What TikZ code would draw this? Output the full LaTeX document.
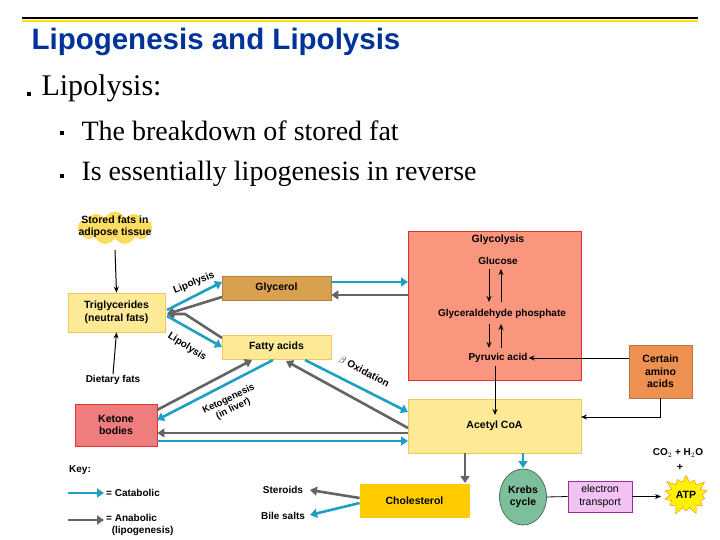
\documentclass[tikz,border=0pt]{standalone}
\usepackage{fontspec}
\setmainfont{Liberation Serif}
\newfontfamily\hsans{Liberation Sans}
\usetikzlibrary{shapes.geometric,shapes.symbols,arrows.meta}
\definecolor{ttl}{RGB}{0,51,153}
\definecolor{lyel}{RGB}{253,233,150}
\definecolor{lyeld}{RGB}{240,200,90}
\definecolor{glyc}{RGB}{217,160,80}
\definecolor{salm}{RGB}{250,150,125}
\definecolor{redb}{RGB}{225,50,50}
\definecolor{oran}{RGB}{238,145,80}
\definecolor{keto}{RGB}{240,125,125}
\definecolor{gold}{RGB}{255,204,0}
\definecolor{krebs}{RGB}{125,190,155}
\definecolor{pink}{RGB}{242,195,242}
\definecolor{purp}{RGB}{150,50,150}
\definecolor{cat}{RGB}{30,160,195}
\definecolor{ana}{RGB}{100,100,100}
\tikzset{
 x=1pt,y=-1pt,
 box/.style={draw=#1,line width=0.8pt,inner sep=0pt,font=\hsans\bfseries\fontsize{10.5}{12.5}\selectfont,align=center},
 lbl/.style={font=\hsans\bfseries\fontsize{10.5}{12.5}\selectfont,align=center,inner sep=1pt},
 sm/.style={font=\hsans\bfseries\fontsize{10}{12}\selectfont},
 catA/.style={draw=cat,line width=2.6pt,-{Triangle[length=7pt,width=9pt]}},
 anaA/.style={draw=ana,line width=2.6pt,-{Triangle[length=7pt,width=9pt]}},
 thin/.style={draw=black,line width=1pt,-{Stealth[length=6pt,width=5pt]}},
 bul/.style={fill=black,minimum size=4pt,inner sep=0pt},
}
\begin{document}
\begin{tikzpicture}
\useasboundingbox (0,0) rectangle (720,540);
\fill[white] (0,0) rectangle (720,540);
% header
\draw[line width=2pt,black] (22,18)--(698,18);
\draw[line width=1.5pt,yellow!80!orange] (22,21)--(698,21);
\node[anchor=west,text=ttl,font=\hsans\bfseries\fontsize{29.5}{32}\selectfont] (title) at (28,42) {Lipogenesis and Lipolysis};
\node[bul] (b1) at (29,94) {};
\node[anchor=west,font=\fontsize{30}{34}\selectfont] (t1) at (38,88) {Lipolysis:};
\node[bul] (b2) at (62,133) {};
\node[anchor=west,font=\fontsize{28}{32}\selectfont] (t2) at (78,131) {The breakdown of stored fat};
\node[bul] (b3) at (62,176) {};
\node[anchor=west,font=\fontsize{28}{32}\selectfont] (t3) at (78,174) {Is essentially lipogenesis in reverse};
% cloud
\node[cloud,cloud puffs=11,aspect=2.4,fill=yellow!60!orange!60,draw=yellow!70!orange,minimum width=74pt,minimum height=32pt] (cl) at (115,228) {};
\node[lbl] (stored) at (115,227) {Stored fats in\\adipose tissue};
% boxes
\node[box=lyeld,fill=lyel,minimum width=97pt,minimum height=39pt] (tri) at (116.5,312.5) {Triglycerides\\(neutral fats)};
\node[box=glyc!80!black,fill=glyc,minimum width=109pt,minimum height=24pt] (gly) at (276.5,288) {Glycerol};
\node[box=lyeld,fill=lyel,minimum width=109pt,minimum height=24pt] (fa) at (276.5,347) {Fatty acids};
\node[box=redb,fill=salm,minimum width=173pt,minimum height=149pt] (glb) at (494.5,305.5) {};
\node[box=oran!80!black,fill=oran,minimum width=63pt,minimum height=53pt] (ami) at (660.5,371.5) {Certain\\amino\\acids};
\node[box=lyeld,fill=lyel,minimum width=173pt,minimum height=54pt] (acc) at (494.5,426) {Acetyl CoA};
\node[box=redb,fill=keto,minimum width=82pt,minimum height=42pt] (ket) at (116,425) {Ketone\\bodies};
\node[box=gold,fill=gold,minimum width=109pt,minimum height=33pt] (cho) at (414.5,500.5) {Cholesterol};
\node[ellipse,box=krebs!60!black,fill=krebs,minimum width=47pt,minimum height=56pt] (kr) at (523,497) {Krebs\\cycle};
\node[box=purp,fill=pink,minimum width=64pt,minimum height=31pt,font=\hsans\fontsize{10.5}{13}\selectfont] (et) at (600,496.5) {electron\\transport};
\node[starburst,starburst points=14,starburst point height=9pt,fill=yellow,draw=orange,minimum width=50pt,minimum height=44pt,inner sep=0pt] (atp) at (686,495) {};
\node[lbl] (atpt) at (686,495) {ATP};
\node[lbl,sm] (co) at (678,453) {CO$_2$ + H$_2$O};
\node[lbl] (plus) at (680,467) {+};
% glycolysis internal
\node[lbl] (glt) at (498,240) {Glycolysis};
\node[lbl,sm] (glu) at (498,261) {Glucose};
\node[lbl,sm] (gap) at (502,314) {Glyceraldehyde phosphate};
\node[lbl,sm] (pyr) at (498,358) {Pyruvic acid};
\draw[thin] (489,269)--(489,302);
\draw[thin] (501,302)--(501,269);
\draw[thin] (489,324)--(489,348);
\draw[thin] (501,348)--(501,324);
\draw[thin] (495,366)--(495,415);
\draw[thin] (ami.west |- pyr) -- (pyr.east);
\draw[thin] (660,398)--(660,417)--(581,417);
% small labels
\node[lbl,sm] (diet) at (113,380) {Dietary fats};
\node[lbl,sm] (ste) at (283,490) {Steroids};
\node[lbl,sm] (bile) at (283,516) {Bile salts};
\draw[thin] (115,250)--(tri.north);
\draw[thin] (diet.north)--(tri.south);
% lipolysis arrows
\draw[anaA] (222,297)--(167,314);
\draw[anaA] (222,338)--(185,314)--(167,314);
\draw[catA] (167,310)--(222,282);
\draw[catA] (167,316)--(222,347);
\node[lbl,sm,rotate=22] (l1) at (194,283) {Lipolysis};
\node[lbl,sm,rotate=-32] (l2) at (187,347) {Lipolysis};
% glycerol glycolysis
\draw[catA] (gly.east |- 0,282)--(408,282);
\draw[anaA] (408,295)--(gly.east |- 0,295);
% fatty acids / acetyl
\draw[catA] (305,360)--(408,412);
\draw[anaA] (408,428)--(286,361);
\node[lbl,sm,rotate=-28] (box) at (364,372) {$\beta$ Oxidation};
% fatty / ketone
\draw[catA] (273,360)--(157,420);
\draw[anaA] (157,410)--(252,360);
\node[lbl,sm,rotate=26,font=\hsans\bfseries\fontsize{9.5}{10.5}\selectfont] (kg) at (231,404) {Ketogenesis\\(in liver)};
% acetyl ketone
\draw[anaA] (408,433)--(ket.east |- 0,433);
\draw[catA] (ket.east |- 0,441)--(408,441);
% acetyl down
\draw[anaA] (465,453)--(465,483);
\draw[catA] (523,453)--(523,468);
\draw[anaA] (cho.west |- 0,498)--(310,490);
\draw[catA] (cho.west |- 0,503)--(310,515);
\draw[line width=0.8pt] (kr.east)--(et.west);
\draw[thin] (et.east)--(661,496.5);
% key
\node[lbl,sm,anchor=west] (key) at (68,470) {Key:};
\coordinate (k1) at (68,493); \coordinate (k1e) at (104,493);
\coordinate (k2) at (68,520); \coordinate (k2e) at (104,520);
\draw[catA] (k1)--(k1e);
\draw[anaA] (k2)--(k2e);
\node[lbl,sm,anchor=west] (kc) at (105,493) {= Catabolic};
\node[lbl,sm,anchor=north west,align=left] (ka) at (105,513) {= Anabolic\\\ \ (lipogenesis)};
\end{tikzpicture}
\end{document}
